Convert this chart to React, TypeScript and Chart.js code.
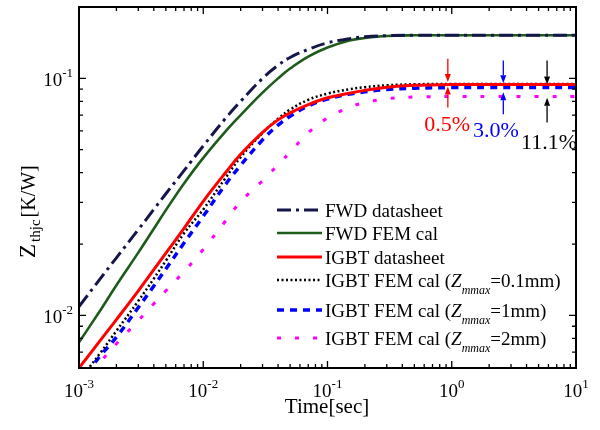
import React, { useEffect, useRef } from 'react';
import { Chart, registerables } from 'chart.js';

Chart.register(...registerables);

// ---------- data ----------
const TIME = [0.001, 0.0015, 0.002, 0.003, 0.004, 0.005, 0.007, 0.01, 0.015, 0.02, 0.03, 0.04, 0.05, 0.07, 0.1, 0.15, 0.2, 0.3, 0.5, 1, 2, 5, 10];

const FWD_DATASHEET = [0.0109, 0.0144, 0.0175, 0.0230, 0.0280, 0.0326, 0.0408, 0.0519, 0.0675, 0.0800, 0.1000, 0.1135, 0.1225, 0.1325, 0.1412, 0.1470, 0.1497, 0.1513, 0.1520, 0.1520, 0.1520, 0.1520, 0.1520];
const FWD_FEM = [0.0077, 0.0106, 0.0134, 0.0184, 0.0232, 0.0278, 0.0360, 0.0462, 0.0595, 0.0700, 0.0870, 0.1000, 0.1100, 0.1235, 0.1350, 0.1445, 0.1480, 0.1510, 0.1519, 0.1520, 0.1520, 0.1520, 0.1520];
const IGBT_DATASHEET = [0.0060, 0.0079, 0.0096, 0.0127, 0.0156, 0.0183, 0.0233, 0.0303, 0.0398, 0.0478, 0.0592, 0.0668, 0.0715, 0.0775, 0.0828, 0.0866, 0.0890, 0.0918, 0.0935, 0.0941, 0.0942, 0.0942, 0.0942];
const IGBT_FEM_01 = [0.0053, 0.0070, 0.0086, 0.0115, 0.0143, 0.0170, 0.0222, 0.0280, 0.0378, 0.0465, 0.0588, 0.0675, 0.0738, 0.0812, 0.0862, 0.0900, 0.0918, 0.0935, 0.0944, 0.0947, 0.0947, 0.0947, 0.0947];
const IGBT_FEM_1 = [0.0052, 0.0068, 0.0081, 0.0108, 0.0133, 0.0157, 0.0202, 0.0262, 0.0355, 0.0430, 0.0550, 0.0635, 0.0692, 0.0765, 0.0818, 0.0858, 0.0877, 0.0897, 0.0909, 0.0914, 0.0914, 0.0914, 0.0914];
const IGBT_FEM_2 = [0.0051, 0.0064, 0.0076, 0.0095, 0.0112, 0.0127, 0.0153, 0.0190, 0.0249, 0.0302, 0.0370, 0.0432, 0.0488, 0.0590, 0.0680, 0.0755, 0.0790, 0.0820, 0.0834, 0.0838, 0.0838, 0.0838, 0.0838];

const SERIES_NAMES = ['FWD datasheet', 'FWD FEM cal', 'IGBT datasheet', 'IGBT FEM cal (', 'IGBT FEM cal (', 'IGBT FEM cal ('];
const ZMMAX_SUFFIX = ['', '', '', '=0.1mm)', '=1mm)', '=2mm)'];

const X_MIN = 0.001;
const X_MAX = 10;
const Y_MIN = 0.006;
const Y_MAX = 0.2;
const X_TICK_EXPONENTS = [-3, -2, -1, 0, 1];
const Y_TICK_EXPONENTS = [-2, -1];

// difference annotations (data coordinates)
const DIFF_LABELS = ['0.5%', '3.0%', '11.1%'];
const DIFF_COLORS = ['#ff0000', '#0000ff', '#000000'];
const DIFF_ARROW_TIMES = [0.93, 2.6, 5.85];
const DIFF_DOWN_FROM = [0.121, 0.119, 0.119];
const DIFF_DOWN_TO = [0.0965, 0.0953, 0.0943];
const DIFF_UP_FROM = [0.0754, 0.0705, 0.0652];
const DIFF_UP_TO = [0.0923, 0.0873, 0.0829];
const DIFF_LABEL_TIMES = [0.92, 2.27, 6.06];
const DIFF_LABEL_Z = [0.0598, 0.0564, 0.0502];

const SERIF = '"Liberation Serif", "Times New Roman", serif';

function pts(values: number[]) {
  return TIME.map((t, i) => ({ x: t, y: values[i] }));
}

function arrow(ctx: CanvasRenderingContext2D, x: number, y0: number, y1: number, color: string) {
  const dir = y1 > y0 ? 1 : -1;
  const headLen = 8;
  ctx.save();
  ctx.strokeStyle = color;
  ctx.fillStyle = color;
  ctx.lineWidth = 1.3;
  ctx.beginPath();
  ctx.moveTo(x, y0);
  ctx.lineTo(x, y1 - dir * headLen);
  ctx.stroke();
  ctx.beginPath();
  ctx.moveTo(x, y1);
  ctx.lineTo(x - 3, y1 - dir * headLen);
  ctx.lineTo(x + 3, y1 - dir * headLen);
  ctx.closePath();
  ctx.fill();
  ctx.restore();
}

const decorPlugin = {
  id: 'decor',
  afterDatasetsDraw(chart: any) {
    const ctx: CanvasRenderingContext2D = chart.ctx;
    const { left, right, top, bottom } = chart.chartArea;
    const xs = chart.scales.x;
    const ys = chart.scales.y;
    ctx.save();

    // frame
    ctx.strokeStyle = '#000';
    ctx.lineWidth = 2;
    ctx.strokeRect(left, top, right - left, bottom - top);

    // ticks
    ctx.lineWidth = 1.3;
    ctx.beginPath();
    for (let d = -3; d <= 1; d++) {
      for (let m = 1; m <= 9; m++) {
        const v = m * Math.pow(10, d);
        if (v < X_MIN * 0.999 || v > X_MAX * 1.001) continue;
        const px = xs.getPixelForValue(v);
        const len = m === 1 ? 7 : 4;
        ctx.moveTo(px, bottom);
        ctx.lineTo(px, bottom - len);
        ctx.moveTo(px, top);
        ctx.lineTo(px, top + len);
      }
    }
    for (let d = -3; d <= -1; d++) {
      for (let m = 1; m <= 9; m++) {
        const v = m * Math.pow(10, d);
        if (v < Y_MIN * 0.999 || v > Y_MAX * 0.999) continue;
        const py = ys.getPixelForValue(v);
        const len = m === 1 ? 7 : 4;
        ctx.moveTo(left, py);
        ctx.lineTo(left + len, py);
        ctx.moveTo(right, py);
        ctx.lineTo(right - len, py);
      }
    }
    ctx.stroke();

    // tick labels
    ctx.fillStyle = '#000';
    ctx.textBaseline = 'alphabetic';
    const mainFont = `19px ${SERIF}`;
    const supFont = `13px ${SERIF}`;
    X_TICK_EXPONENTS.forEach((e) => {
      const px = xs.getPixelForValue(Math.pow(10, e));
      ctx.font = mainFont;
      const w1 = ctx.measureText('10').width;
      ctx.font = supFont;
      const sup = e < 0 ? '-' + Math.abs(e) : String(e);
      const w2 = ctx.measureText(sup).width;
      const x0 = px - (w1 + w2) / 2;
      ctx.textAlign = 'left';
      ctx.font = mainFont;
      ctx.fillText('10', x0, bottom + 29);
      ctx.font = supFont;
      ctx.fillText(sup, x0 + w1, bottom + 20);
    });
    Y_TICK_EXPONENTS.forEach((e) => {
      const py = ys.getPixelForValue(Math.pow(10, e));
      ctx.font = supFont;
      const sup = '-' + Math.abs(e);
      const w2 = ctx.measureText(sup).width;
      ctx.textAlign = 'right';
      ctx.fillText(sup, left - 6, py - 1);
      ctx.font = mainFont;
      ctx.fillText('10', left - 6 - w2, py + 8);
    });

    // x title
    ctx.font = `21px ${SERIF}`;
    ctx.textAlign = 'center';
    ctx.fillText('Time[sec]', (left + right) / 2 - 0.5, bottom + 45);

    // y title
    ctx.save();
    ctx.translate(35, 258);
    ctx.rotate(-Math.PI / 2);
    ctx.textAlign = 'left';
    ctx.font = `23px ${SERIF}`;
    ctx.fillText('Z', 0, 0);
    let cx = ctx.measureText('Z').width + 2;
    ctx.font = `15px ${SERIF}`;
    ctx.fillText('thjc', cx, 5);
    cx += ctx.measureText('thjc').width + 2;
    ctx.font = `20px ${SERIF}`;
    ctx.fillText('[K/W]', cx, 0);
    ctx.restore();

    // legend
    const legendRowsY = [210, 233, 257, 280, 310, 338];
    const lx0 = 277;
    const lx1 = 322;
    const tx = 325;
    chart.data.datasets.forEach((ds: any, i: number) => {
      const y = legendRowsY[i];
      ctx.save();
      ctx.strokeStyle = ds.borderColor;
      ctx.lineWidth = ds.borderWidth;
      ctx.setLineDash(ds.borderDash || []);
      ctx.lineCap = 'butt';
      ctx.beginPath();
      ctx.moveTo(lx0, y);
      ctx.lineTo(lx1, y);
      ctx.stroke();
      ctx.restore();
      ctx.fillStyle = '#000';
      ctx.textAlign = 'left';
      ctx.font = `19px ${SERIF}`;
      const by = y + 7;
      ctx.fillText(SERIES_NAMES[i], tx, by);
      if (ZMMAX_SUFFIX[i]) {
        let x = tx + ctx.measureText(SERIES_NAMES[i]).width;
        ctx.font = `italic 19px ${SERIF}`;
        ctx.fillText('Z', x, by);
        x += ctx.measureText('Z').width;
        ctx.font = `italic 12px ${SERIF}`;
        ctx.fillText('mmax', x, by + 7);
        x += ctx.measureText('mmax').width;
        ctx.font = `19px ${SERIF}`;
        ctx.fillText(ZMMAX_SUFFIX[i], x, by);
      }
    });

    // difference annotations
    DIFF_LABELS.forEach((label, i) => {
      const ax = xs.getPixelForValue(DIFF_ARROW_TIMES[i]);
      arrow(ctx, ax, ys.getPixelForValue(DIFF_DOWN_FROM[i]), ys.getPixelForValue(DIFF_DOWN_TO[i]), DIFF_COLORS[i]);
      arrow(ctx, ax, ys.getPixelForValue(DIFF_UP_FROM[i]), ys.getPixelForValue(DIFF_UP_TO[i]), DIFF_COLORS[i]);
      ctx.fillStyle = DIFF_COLORS[i];
      ctx.font = `22px ${SERIF}`;
      ctx.textAlign = 'center';
      ctx.fillText(label, xs.getPixelForValue(DIFF_LABEL_TIMES[i]), ys.getPixelForValue(DIFF_LABEL_Z[i]));
    });

    ctx.restore();
  },
};

export default function App() {
  const ref = useRef<HTMLCanvasElement | null>(null);
  useEffect(() => {
    if (!ref.current) return;
    const common = { pointRadius: 0, fill: false, tension: 0.4, borderCapStyle: 'butt' as const };
    const chart = new Chart(ref.current, {
      type: 'line',
      data: {
        datasets: [
          { ...common, label: SERIES_NAMES[0], data: pts(FWD_DATASHEET), borderColor: '#14164a', borderWidth: 3, borderDash: [14, 5, 3, 5] },
          { ...common, label: SERIES_NAMES[1], data: pts(FWD_FEM), borderColor: '#1d5b1b', borderWidth: 2.6, borderDash: [] },
          { ...common, label: SERIES_NAMES[2], data: pts(IGBT_DATASHEET), borderColor: '#ff0000', borderWidth: 3, borderDash: [] },
          { ...common, label: SERIES_NAMES[3] + ZMMAX_SUFFIX[3], data: pts(IGBT_FEM_01), borderColor: '#000000', borderWidth: 2.5, borderDash: [2, 2.5] },
          { ...common, label: SERIES_NAMES[4] + ZMMAX_SUFFIX[4], data: pts(IGBT_FEM_1), borderColor: '#0000ff', borderWidth: 3.5, borderDash: [7, 6] },
          { ...common, label: SERIES_NAMES[5] + ZMMAX_SUFFIX[5], data: pts(IGBT_FEM_2), borderColor: '#ff00ff', borderWidth: 3, borderDash: [4, 14] },
        ],
      },
      options: {
        responsive: false,
        animation: false,
        devicePixelRatio: 1,
        layout: { padding: { left: 79, right: 24, top: 7, bottom: 62 } },
        scales: {
          x: { type: 'logarithmic', min: X_MIN, max: X_MAX, display: false },
          y: { type: 'logarithmic', min: Y_MIN, max: Y_MAX, display: false },
        },
        plugins: { legend: { display: false }, tooltip: { enabled: false } },
      },
      plugins: [decorPlugin],
    });
    return () => chart.destroy();
  }, []);
  return (
    <div style={{ position: 'absolute', left: 0, top: 0, width: 600, height: 430, background: '#fff' }}>
      <canvas ref={ref} width={600} height={430} style={{ display: 'block' }} />
    </div>
  );
}
